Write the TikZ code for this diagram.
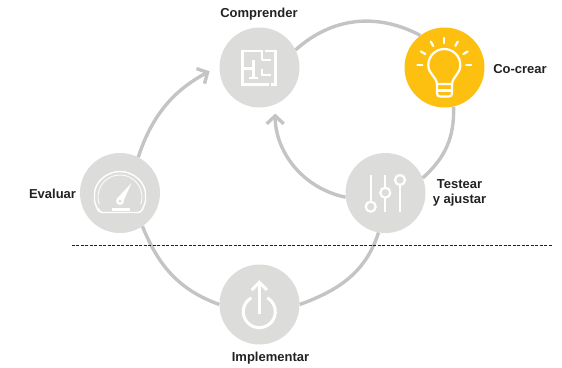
\documentclass[tikz,border=0pt]{standalone}
\usepackage{fontspec}
\setmainfont{Liberation Sans}
\usetikzlibrary{arrows.meta}
\definecolor{stepgrey}{HTML}{DCDCDB}
\definecolor{loopgrey}{HTML}{C4C4C4}
\definecolor{bulbyellow}{HTML}{FDC010}
\definecolor{labeltext}{HTML}{222222}
\tikzset{
	phase/.style={circle, fill=stepgrey, minimum size=80pt, inner sep=0pt},
	phaselabel/.style={font=\bfseries\fontsize{13}{15}\selectfont, text=labeltext, align=center, inner sep=0pt},
	loopline/.style={draw=loopgrey, line width=3.4pt},
	looparrow/.style={loopline, -{Straight Barb[length=8pt, width=17pt, line width=3.4pt]}},
	icon/.style={draw=white, line width=2.2pt, fill=none}
}
\begin{document}
\begin{tikzpicture}[x=1pt, y=-1pt]
\useasboundingbox (0,0) rectangle (562,367);

\node[phase] (comprender) at (259.5,67.5) {};
\node[phase, fill=bulbyellow] (cocrear) at (444.5,67.5) {};
\node[phase] (testear) at (385.5,193) {};
\node[phase] (evaluar) at (120,193) {};
\node[phase] (implementar) at (259.5,304.5) {};

\node[phaselabel] (lcomprender) at (259,14) {Comprender};
\node[phaselabel] (lcocrear) at (520,69) {Co-crear};
\node[phaselabel] (ltestear) at (459.5,193) {Testear\\y ajustar};
\node[phaselabel] (levaluar) at (52.5,193.5) {Evaluar};
\node[phaselabel] (limplementar) at (270.5,358.5) {Implementar};

\draw[loopline] (comprender.26) to[out=42, in=152] (cocrear.127);
\draw[loopline] (cocrear.-77) to[out=-88, in=42] (testear.22);
\draw[looparrow, shorten >=9pt] (testear.186) to[out=168, in=-90] (comprender.-67);
\draw[looparrow, shorten >=11pt] (evaluar.63) to[out=72, in=208] (comprender.178);
\draw[loopline] (evaluar.-56) to[out=-68, in=160] (implementar.180);
\draw[loopline] (implementar.0) to[out=20, in=-108] (testear.-100);

\node (dashstart) at (71,245.5) [inner sep=0pt] {};
\node (dashend) at (553,245.5) [inner sep=0pt] {};
\draw[labeltext, line width=1.5pt, dash pattern=on 3pt off 1.5pt] (dashstart) -- (dashend);

% floor plan
\draw[icon] (262,60) -- (262,51) -- (242.5,51) -- (242.5,84.5) -- (268.5,84.5);
\draw[icon] (265,51) -- (275.5,51) -- (275.5,84.5) -- (271,84.5);
\draw[icon] (262,60) -- (271,60);
\draw[icon] (242.5,68.5) -- (253.5,68.5);
\draw[icon] (253.5,60) -- (253.5,78);
\draw[icon] (249,78) -- (258,78);
\draw[icon] (262,68.5) -- (262,75) -- (271,75);

% bulb
\draw[icon] (437,84) .. controls (436,76) and (428.3,74) .. (428.3,65) arc[start angle=180, end angle=360, radius=16] .. controls (460.3,74) and (453,76) .. (452,84) -- cycle;
\draw[icon, rounded corners=3pt] (437,84) -- (437,96.5) -- (452,96.5) -- (452,84);
\draw[icon] (437,90.5) -- (452,90.5);
\foreach \a in {0,30,...,180}
	\draw[icon, line cap=round] (444.3,65) ++(\a:-22) -- ++(\a:-5);

% gauge
\draw[icon, line width=1.4pt, rounded corners=3pt] (99,212.5) -- (141,212.5) .. controls (144,206) and (145.5,202) .. (145.5,197) arc[start angle=0, end angle=-180, radius=25.5] .. controls (94.5,202) and (96,206) .. cycle;
\draw[icon, line width=0.8pt] (99.3,204.5) arc[start angle=160, end angle=380, radius=22];
\fill[white] (117.5,198) -- (131.5,183) -- (123,202) -- cycle;
\fill[white] (120,201) circle (4);
\fill[stepgrey] (120,201) circle (1.5);
\fill[white] (111.5,207.5) rectangle (130,210.5);

% sliders
\draw[icon] (370.7,175) -- (370.7,202);
\draw[icon] (385.3,175) -- (385.3,211.5);
\draw[icon] (400,185) -- (400,211.5);
\draw[icon, fill=stepgrey] (370.7,206.7) circle (5);
\draw[icon, fill=stepgrey] (385.3,192.7) circle (5);
\draw[icon, fill=stepgrey] (400,180) circle (5);

% power
\draw[icon, line width=3pt] (251.3,297.8) arc[start angle=240, end angle=-60, radius=16];
\draw[icon, line width=3pt] (259.3,313.5) -- (259.3,283);
\draw[icon, line width=3pt] (251.7,290) -- (259.3,282.3) -- (266.9,290);
\end{tikzpicture}
\end{document}
